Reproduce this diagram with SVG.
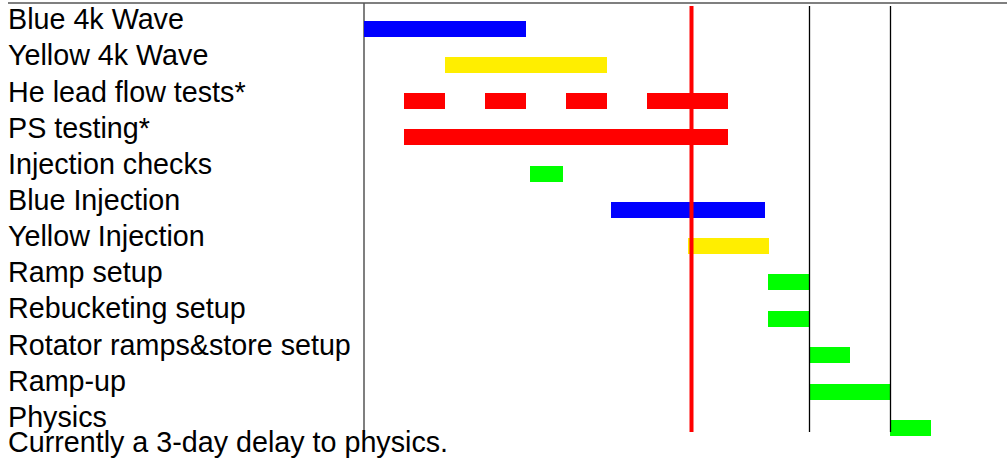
<svg xmlns="http://www.w3.org/2000/svg" width="1007" height="462" viewBox="0 0 1007 462">
  <style>
    .label { font-family: "Liberation Sans", Arial, sans-serif; font-size: 28.7px; fill: #000; }
    .axis { stroke: #555; stroke-width: 1.5; fill: none; }
    .grid { stroke: #000; stroke-width: 1.3; }
    .now { stroke: #ff0000; stroke-width: 4; }
    .blue { fill: #0000ff; }
    .yellow { fill: #ffee00; }
    .red { fill: #ff0000; }
    .green { fill: #00ff00; }
  </style>
  <rect width="1007" height="462" fill="#ffffff"/>

  <!-- frame: top rule and time axis -->
  <g id="frame">
    <line class="axis" x1="8" y1="3" x2="1007" y2="3"/>
    <line class="axis" x1="364" y1="3" x2="364" y2="432"/>
  </g>

  <!-- task labels -->
  <g id="labels">
    <text class="label" x="8" y="29">Blue 4k Wave</text>
    <text class="label" x="8" y="65">Yellow 4k Wave</text>
    <text class="label" x="8" y="101.5">He lead flow tests*</text>
    <text class="label" x="8" y="137.5">PS testing*</text>
    <text class="label" x="8" y="173.5">Injection checks</text>
    <text class="label" x="8" y="210">Blue Injection</text>
    <text class="label" x="8" y="246">Yellow Injection</text>
    <text class="label" x="8" y="282">Ramp setup</text>
    <text class="label" x="8" y="318">Rebucketing setup</text>
    <text class="label" x="8" y="354.5">Rotator ramps&amp;store setup</text>
    <text class="label" x="8" y="390.5">Ramp-up</text>
    <text class="label" x="8" y="427">Physics</text>
    <text class="label" x="8" y="452">Currently a 3-day delay to physics.</text>
  </g>

  <!-- schedule bars -->
  <g id="bar-blue-4k"><rect class="blue" x="364" y="21" width="162" height="16"/></g>
  <g id="bar-yellow-4k"><rect class="yellow" x="445" y="57" width="162" height="16"/></g>
  <g id="bar-he-lead">
    <rect class="red" x="404" y="93" width="41" height="16"/>
    <rect class="red" x="485" y="93" width="41" height="16"/>
    <rect class="red" x="566" y="93" width="41" height="16"/>
    <rect class="red" x="647" y="93" width="81" height="16"/>
  </g>
  <g id="bar-ps-testing"><rect class="red" x="404" y="129" width="324" height="16"/></g>
  <g id="bar-injection-checks"><rect class="green" x="530" y="166" width="33" height="16"/></g>
  <g id="bar-blue-injection"><rect class="blue" x="611" y="202" width="154" height="16"/></g>
  <g id="bar-yellow-injection"><rect class="yellow" x="688" y="238" width="81" height="16"/></g>
  <g id="bar-ramp-setup"><rect class="green" x="768" y="274" width="41" height="16"/></g>
  <g id="bar-rebucketing"><rect class="green" x="768" y="311" width="41" height="16"/></g>
  <g id="bar-rotator"><rect class="green" x="809" y="347" width="41" height="16"/></g>
  <g id="bar-ramp-up"><rect class="green" x="809" y="384" width="81" height="16"/></g>
  <g id="bar-physics"><rect class="green" x="890" y="420" width="41" height="16"/></g>

  <!-- milestone markers -->
  <g id="markers">
    <line class="grid" x1="809.5" y1="6" x2="809.5" y2="432"/>
    <line class="grid" x1="890.5" y1="6" x2="890.5" y2="432"/>
    <line class="now" x1="691.5" y1="6" x2="691.5" y2="432"/>
  </g>
</svg>
